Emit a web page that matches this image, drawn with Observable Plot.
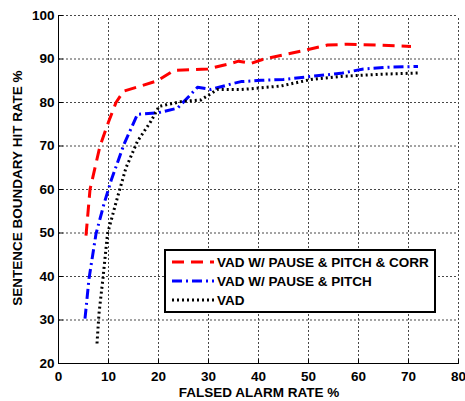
<!DOCTYPE html>
<html><head><meta charset="utf-8">
<script src="https://cdn.jsdelivr.net/npm/d3@7"></script>
<script src="https://cdn.jsdelivr.net/npm/@observablehq/plot@0.6"></script>
<style>
body{margin:0;background:#fff;}
svg{font-family:"Liberation Sans",Arial,sans-serif;}
</style></head>
<body><div id="chart"></div>
<script>
const seriesNames = ["VAD W/ PAUSE & PITCH & CORR", "VAD W/ PAUSE & PITCH", "VAD"];
const corrX = [5.5, 6.3, 8.3, 10, 11.5, 13, 16.5, 19.8, 23.1, 29.8, 34.5, 36, 38.5, 41.1, 48.5, 53.8, 57.8, 63.8, 70.5];
const corrY = [49.4, 60, 70, 75.5, 80, 82.6, 83.8, 85.0, 87.4, 87.7, 89, 89.5, 89.0, 90, 91.8, 93.2, 93.4, 93.2, 92.9];
const pitchX = [5.3, 6.1, 7.5, 9.1, 10.5, 13.1, 15.8, 19.8, 23.8, 26.5, 27.8, 30.5, 35, 36.5, 40.5, 45, 50.5, 56.5, 61, 65.9, 71.9];
const pitchY = [30.3, 39.5, 49.8, 56.7, 62, 70.4, 77.3, 77.6, 78.7, 81.9, 83.5, 83, 84.4, 84.8, 85.1, 85.3, 86.0, 86.7, 87.7, 88.1, 88.3];
const vadX = [7.7, 8.1, 8.9, 9.8, 11.5, 13.5, 15.8, 18.5, 20.1, 24.5, 28.5, 31.8, 36.5, 37.8, 44.5, 50.5, 56.5, 64.5, 72.1];
const vadY = [24.6, 31.5, 39.7, 49.8, 57, 65, 71.1, 75.7, 79.1, 80.2, 80.6, 83, 83, 83.1, 83.8, 85.3, 86, 86.5, 86.8];
const xTicks = [0, 10, 20, 30, 40, 50, 60, 70, 80];
const yTicks = [20, 30, 40, 50, 60, 70, 80, 90, 100];
const colors = ["#ff0000", "#0000ff", "#000000"];
const dashes = ["12,7", "10,4,2,4", "2,3"];

const toPts = (xs, ys) => xs.map((x, i) => ({x, y: ys[i]}));
const series = [toPts(corrX, corrY), toPts(pitchX, pitchY), toPts(vadX, vadY)];
const [x0, x1] = [xTicks[0], xTicks[xTicks.length - 1]];
const [y0, y1] = [yTicks[0], yTicks[yTicks.length - 1]];
const gridV = xTicks.slice(1).flatMap(x => [{x, y: y0, k: x}, {x, y: y1, k: x}]);
const gridH = yTicks.slice(1).flatMap(y => [{x: x0, y, k: y}, {x: x1, y, k: y}]);
const tickV = xTicks.flatMap(x => [{x, y: y0, k: x}, {x, y: y0 + 0.9, k: x}]);
const tickH = yTicks.flatMap(y => [{x: x0, y, k: y}, {x: x0 + 0.8, y, k: y}]);

const plot = Plot.plot({
  width: 465, height: 401,
  marginLeft: 58, marginRight: 7, marginTop: 15, marginBottom: 38,
  style: {fontFamily: '"Liberation Sans", Arial, sans-serif', background: "#fff"},
  x: {domain: [x0, x1]},
  y: {domain: [y0, y1]},
  marks: [
    Plot.line(gridV, {x: "x", y: "y", z: "k", stroke: "#333", strokeWidth: 1, strokeDasharray: "1,3"}),
    Plot.line(gridH, {x: "x", y: "y", z: "k", stroke: "#333", strokeWidth: 1, strokeDasharray: "1,3"}),
    Plot.line(tickV, {x: "x", y: "y", z: "k", stroke: "#000", strokeWidth: 1}),
    Plot.line(tickH, {x: "x", y: "y", z: "k", stroke: "#000", strokeWidth: 1}),
    Plot.ruleX([x0], {stroke: "#000", strokeWidth: 1}),
    Plot.ruleY([y0], {stroke: "#000", strokeWidth: 1}),
    Plot.axisX(xTicks, {tickSize: 0, tickPadding: 8, fontSize: 13.5, fontWeight: "bold", label: null, color: "#000"}),
    Plot.axisY(yTicks, {tickSize: 0, tickPadding: 4, fontSize: 13.5, fontWeight: "bold", label: null, color: "#000"}),
    ...series.map((s, i) => Plot.line(s, {x: "x", y: "y", stroke: colors[i], strokeWidth: 3, strokeDasharray: dashes[i], strokeLinecap: "butt"}))
  ]
});

const svg = d3.select(plot);
svg.append("text").attr("x", 259).attr("y", 397).attr("text-anchor", "middle")
  .attr("font-size", 13.5).attr("font-weight", "bold").attr("fill", "#000").text("FALSED ALARM RATE %");
svg.append("text").attr("transform", "translate(22,188) rotate(-90)").attr("text-anchor", "middle")
  .attr("font-size", 13.5).attr("font-weight", "bold").attr("fill", "#000").text("SENTENCE BOUNDARY HIT RATE %");

const lg = svg.append("g");
lg.append("rect").attr("x", 165).attr("y", 250).attr("width", 270).attr("height", 62)
  .attr("fill", "#fff").attr("stroke", "#000").attr("stroke-width", 2);
seriesNames.forEach((name, i) => {
  const yy = 262 + i * 19;
  lg.append("line").attr("x1", 172).attr("x2", 214).attr("y1", yy).attr("y2", yy)
    .attr("stroke", colors[i]).attr("stroke-width", 3).attr("stroke-dasharray", dashes[i]);
  lg.append("text").attr("x", 217).attr("y", yy + 5).attr("text-anchor", "start")
    .attr("font-size", 13.5).attr("font-weight", "bold").attr("fill", "#000").text(name);
});

document.getElementById("chart").appendChild(plot);
</script></body></html>
